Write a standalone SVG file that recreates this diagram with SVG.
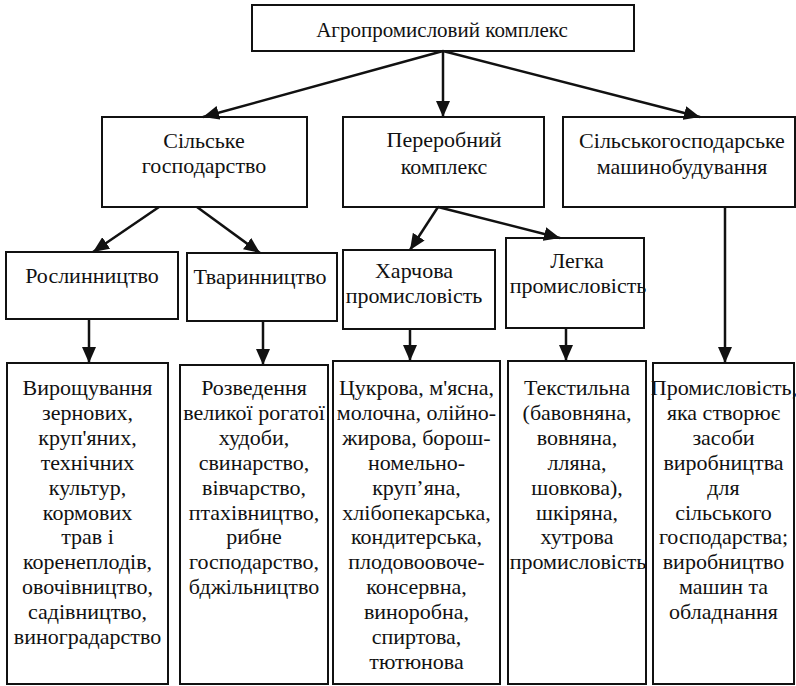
<svg xmlns="http://www.w3.org/2000/svg" width="796" height="686" viewBox="0 0 796 686">
<style>
rect.box{fill:#fff;stroke:#111;stroke-width:2}
text{font-family:"Liberation Serif","Times New Roman",serif;font-size:22px;fill:#111;text-anchor:middle}
.conn line{stroke:#111;stroke-width:2.5;marker-end:url(#ah)}
</style>
<defs>
<marker id="ah" markerUnits="userSpaceOnUse" markerWidth="16" markerHeight="14" viewBox="0 0 16 14" refX="16" refY="7" orient="auto">
<path d="M0,0 L16,7 L0,14 Z" fill="#111"/>
</marker>
</defs>
<rect width="796" height="686" fill="#fff"/>

<g id="n-apk">
<rect class="box" x="252" y="5" width="382" height="46"/>
<text x="442" y="37" style="font-size:21px">Агропромисловий комплекс</text>
</g>

<g id="n-silske">
<rect class="box" x="102" y="117" width="205" height="90"/>
<text x="204" y="148">Сільське</text>
<text x="204" y="173">господарство</text>
</g>

<g id="n-pererobnyi">
<rect class="box" x="343" y="117" width="201" height="90"/>
<text x="444" y="147">Переробний</text>
<text x="444" y="174">комплекс</text>
</g>

<g id="n-mash">
<rect class="box" x="563" y="117" width="232" height="90"/>
<text x="682" y="148">Сільськогосподарське</text>
<text x="682" y="174">машинобудування</text>
</g>

<g id="n-roslyn">
<rect class="box" x="6" y="252" width="172" height="67"/>
<text x="92" y="283">Рослинництво</text>
</g>

<g id="n-tvaryn">
<rect class="box" x="187" y="253" width="150" height="68"/>
<text x="260" y="284">Тваринництво</text>
</g>

<g id="n-kharch">
<rect class="box" x="343" y="250" width="152" height="79"/>
<text x="414" y="278">Харчова</text>
<text x="414" y="303">промисловість</text>
</g>

<g id="n-lehka">
<rect class="box" x="506" y="238" width="138" height="90"/>
<text x="577" y="268">Легка</text>
<text x="578" y="293">промисловість</text>
</g>

<g id="n-b1">
<rect class="box" x="7" y="363" width="161" height="321"/>
<text x="87.5" y="395">Вирощування</text>
<text x="87.5" y="419.9">зернових,</text>
<text x="87.5" y="444.8">круп'яних,</text>
<text x="87.5" y="469.7">технічних</text>
<text x="87.5" y="494.6">культур,</text>
<text x="87.5" y="519.5">кормових</text>
<text x="87.5" y="544.4">трав і</text>
<text x="87.5" y="569.3">коренеплодів,</text>
<text x="87.5" y="594.2">овочівництво,</text>
<text x="87.5" y="619.1">садівництво,</text>
<text x="87.5" y="644">виноградарство</text>
</g>

<g id="n-b2">
<rect class="box" x="180" y="365" width="148" height="319"/>
<text x="254" y="395">Розведення</text>
<text x="254" y="419.9">великої рогатої</text>
<text x="254" y="444.8">худоби,</text>
<text x="254" y="469.7">свинарство,</text>
<text x="254" y="494.6">вівчарство,</text>
<text x="254" y="519.5">птахівництво,</text>
<text x="254" y="544.4">рибне</text>
<text x="254" y="569.3">господарство,</text>
<text x="254" y="594.2">бджільництво</text>
</g>

<g id="n-b3">
<rect class="box" x="333" y="361" width="167" height="323"/>
<text x="416.5" y="395">Цукрова, м'ясна,</text>
<text x="416.5" y="419.9">молочна, олійно-</text>
<text x="416.5" y="444.8">жирова, борош-</text>
<text x="416.5" y="469.7">номельно-</text>
<text x="416.5" y="494.6">круп’яна,</text>
<text x="416.5" y="519.5">хлібопекарська,</text>
<text x="416.5" y="544.4">кондитерська,</text>
<text x="416.5" y="569.3">плодовоовоче-</text>
<text x="416.5" y="594.2">консервна,</text>
<text x="416.5" y="619.1">виноробна,</text>
<text x="416.5" y="644">спиртова,</text>
<text x="416.5" y="668.9">тютюнова</text>
</g>

<g id="n-b4">
<rect class="box" x="508" y="361" width="138" height="323"/>
<text x="577" y="395">Текстильна</text>
<text x="577" y="419.9">(бавовняна,</text>
<text x="577" y="444.8">вовняна,</text>
<text x="577" y="469.7">лляна,</text>
<text x="577" y="494.6">шовкова),</text>
<text x="577" y="519.5">шкіряна,</text>
<text x="577" y="544.4">хутрова</text>
<text x="578" y="569.3">промисловість</text>
</g>

<g id="n-b5">
<rect class="box" x="653" y="363" width="141" height="321"/>
<text x="724" y="395">Промисловість,</text>
<text x="723.5" y="419.9">яка створює</text>
<text x="723.5" y="444.8">засоби</text>
<text x="723.5" y="469.7">виробництва</text>
<text x="723.5" y="494.6">для</text>
<text x="723.5" y="519.5">сільського</text>
<text x="723.5" y="544.4">господарства;</text>
<text x="723.5" y="569.3">виробництво</text>
<text x="723.5" y="594.2">машин та</text>
<text x="723.5" y="619.1">обладнання</text>
</g>

<g id="connectors" class="conn">
<line x1="443" y1="51" x2="203" y2="117"/>
<line x1="443" y1="51" x2="443" y2="117"/>
<line x1="443" y1="51" x2="700" y2="117"/>
<line x1="159" y1="207" x2="93" y2="252"/>
<line x1="197" y1="207" x2="260" y2="253"/>
<line x1="438" y1="207" x2="410" y2="250"/>
<line x1="438" y1="207" x2="560" y2="238"/>
<line x1="89" y1="319" x2="89" y2="363"/>
<line x1="263" y1="321" x2="263" y2="365"/>
<line x1="410" y1="329" x2="410" y2="361"/>
<line x1="566" y1="328" x2="566" y2="361"/>
<line x1="725" y1="207" x2="725" y2="363"/>
</g>
</svg>
